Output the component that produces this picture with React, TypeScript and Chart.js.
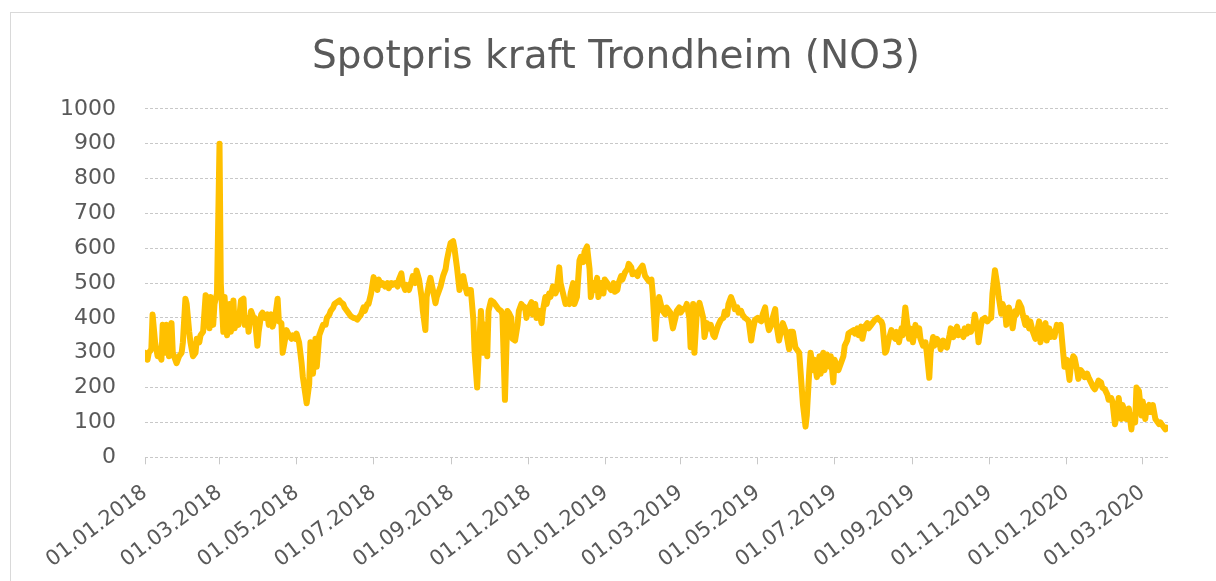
import React, { useEffect, useRef } from "react";
import { Chart, registerables } from "chart.js";

Chart.register(...registerables);

const TITLE = "Spotpris kraft Trondheim (NO3)";
const START_DATE = "01.01.2018";
const AXIS_END_DAY = 810;

const xTickLabels = [
  "01.01.2018", "01.03.2018", "01.05.2018", "01.07.2018", "01.09.2018",
  "01.11.2018", "01.01.2019", "01.03.2019", "01.05.2019", "01.07.2019",
  "01.09.2019", "01.11.2019", "01.01.2020", "01.03.2020",
];

const Y_MIN = 0;
const Y_MAX = 1000;
const Y_STEP = 100;

// day offsets from START_DATE of each reading
const dayOffsets = [
  0, 2, 3, 5, 6, 8, 10, 11, 13, 14, 16, 17,
  19, 21, 22, 24, 25, 27, 29, 30, 32, 33, 35, 36,
  38, 40, 41, 43, 44, 46, 48, 49, 51, 52, 54, 55,
  57, 59, 60, 62, 63, 65, 67, 68, 70, 71, 73, 74,
  76, 78, 79, 81, 82, 84, 86, 87, 89, 90, 92, 93,
  95, 97, 98, 100, 101, 103, 105, 106, 108, 109, 111, 112,
  114, 116, 117, 119, 120, 122, 124, 125, 127, 128, 130, 131,
  133, 135, 136, 138, 139, 141, 143, 144, 146, 147, 149, 150,
  152, 154, 155, 157, 158, 160, 162, 163, 165, 166, 168, 169,
  171, 173, 174, 176, 177, 179, 181, 182, 184, 185, 187, 188,
  190, 192, 193, 195, 196, 198, 200, 201, 203, 204, 206, 207,
  209, 211, 212, 214, 215, 217, 219, 220, 222, 223, 225, 226,
  228, 230, 231, 233, 234, 236, 238, 239, 241, 242, 244, 245,
  247, 249, 250, 252, 253, 255, 257, 258, 260, 261, 263, 264,
  266, 268, 269, 271, 272, 274, 276, 277, 279, 280, 282, 283,
  285, 287, 288, 290, 291, 293, 295, 296, 298, 299, 301, 302,
  304, 306, 307, 309, 310, 312, 314, 315, 317, 318, 320, 321,
  323, 325, 326, 328, 329, 331, 333, 334, 336, 337, 339, 340,
  342, 344, 345, 347, 348, 350, 352, 353, 355, 356, 358, 359,
  361, 363, 364, 366, 367, 369, 371, 372, 374, 375, 377, 378,
  380, 382, 383, 385, 386, 388, 390, 391, 393, 394, 396, 397,
  399, 401, 402, 404, 405, 407, 409, 410, 412, 413, 415, 416,
  418, 420, 421, 423, 424, 426, 428, 429, 431, 432, 434, 435,
  437, 439, 440, 442, 443, 445, 447, 448, 450, 451, 453, 454,
  456, 458, 459, 461, 462, 464, 466, 467, 469, 470, 472, 473,
  475, 477, 478, 480, 481, 483, 485, 486, 488, 489, 491, 492,
  494, 496, 497, 499, 500, 502, 504, 505, 507, 508, 510, 511,
  513, 515, 516, 518, 519, 521, 523, 524, 526, 527, 529, 530,
  532, 534, 535, 537, 538, 540, 542, 543, 545, 546, 548, 549,
  551, 553, 554, 556, 557, 559, 561, 562, 564, 565, 567, 568,
  570, 572, 573, 575, 576, 578, 580, 581, 583, 584, 586, 587,
  589, 591, 592, 594, 595, 597, 599, 600, 602, 603, 605, 606,
  608, 610, 611, 613, 614, 616, 618, 619, 621, 622, 624, 625,
  627, 629, 630, 632, 633, 635, 637, 638, 640, 641, 643, 644,
  646, 648, 649, 651, 652, 654, 656, 657, 659, 660, 662, 663,
  665, 667, 668, 670, 671, 673, 675, 676, 678, 679, 681, 682,
  684, 686, 687, 689, 690, 692, 694, 695, 697, 698, 700, 701,
  703, 705, 706, 708, 709, 711, 713, 714, 716, 717, 719, 720,
  722, 724, 725, 727, 728, 730, 732, 733, 735, 736, 738, 739,
  741, 743, 744, 746, 747, 749, 751, 752, 754, 755, 757, 758,
  760, 762, 763, 765, 766, 768, 770, 771, 773, 774, 776, 777,
  779, 781, 782, 784, 785, 787, 789, 790, 792, 793, 795, 796,
  798, 800, 801, 803, 804, 806, 808, 809,
];

// spot price (NOK/MWh) readings
const prices = [
  // Jan - Apr 2018
  300, 280, 300, 310, 410, 330, 290, 300, 280, 380, 300, 380,
  290, 385, 300, 280, 270, 290, 300, 330, 455, 440, 360, 330,
  290, 300, 340, 330, 350, 360, 465, 460, 370, 460, 380, 440,
  470, 900, 500, 360, 460, 350, 440, 360, 450, 370, 400, 380,
  450, 455, 380, 400, 360, 420, 400, 400, 320, 360, 410, 415,
  400, 410, 380,
  // Apr - Jul 2018
  410, 375, 400, 455, 390, 385, 300, 340, 365, 350, 340, 350,
  340, 355, 330, 270, 230, 180, 155, 210, 330, 240, 340, 260,
  350, 360, 380, 380, 400, 410, 420, 430, 440, 445, 450, 445,
  440, 430, 420, 410, 405, 400, 400, 395, 400, 410, 430, 420,
  440, 440, 470, 517, 500, 480, 510, 495, 500, 490, 500, 485,
  500, 495,
  // Jul - Nov 2018
  500, 490, 510, 528, 500, 480, 495, 480, 505, 520, 500, 536,
  510, 460, 420, 365, 460, 500, 515, 480, 442, 460, 480, 490,
  520, 540, 565, 600, 615, 620, 600, 545, 480, 500, 520, 500,
  470, 480, 480, 395, 300, 200, 280, 420, 300, 380, 290, 420,
  450, 445, 440, 430, 425, 420, 410, 165, 420, 415, 400, 340,
  335, 380, 420, 440, 435, 430, 400, 430,
  // Nov 2018 - Feb 2019
  445, 410, 440, 400, 420, 385, 420, 460, 440, 470, 460, 490,
  470, 480, 545, 500, 470, 440, 450, 440, 470, 500, 440, 460,
  565, 575, 560, 590, 605, 540, 460, 500, 480, 515, 460, 500,
  470, 510, 500, 490, 480, 500, 475, 480, 500, 520, 510, 530,
  540, 555, 545, 525, 530, 520, 535, 545, 550, 520, 515, 505,
  510, 470, 340, 400, 460, 430, 420, 410,
  // Feb - Jun 2019
  430, 420, 415, 370, 400, 420, 430, 415, 425, 430, 440, 400,
  316, 440, 300, 420, 443, 430, 400, 345, 385, 370, 380, 350,
  345, 370, 380, 395, 400, 418, 410, 440, 460, 440, 425, 430,
  415, 420, 410, 400, 395, 390, 335, 360, 395, 400, 395, 390,
  410, 430, 400, 365, 380, 400, 425, 380, 335, 370, 385, 365,
  350, 310, 360,
  // Jun - Sep 2019
  360, 315, 310, 300, 250, 150, 88, 120, 250, 300, 250, 280,
  230, 290, 240, 300, 250, 295, 260, 290, 215, 280, 260, 250,
  270, 290, 320, 335, 355, 360, 365, 355, 370, 350, 375, 340,
  375, 385, 370, 380, 385, 395, 400, 395, 390, 380, 300, 305,
  340, 365, 350, 340, 360, 330, 370, 350, 430, 400, 340, 370,
  330, 380, 350, 370, 340, 320,
  // Sep - Dec 2019
  330, 300, 228, 300, 345, 320, 340, 330, 310, 335, 320, 315,
  350, 370, 345, 360, 375, 350, 360, 345, 370, 355, 375, 360,
  380, 410, 370, 330, 380, 395, 400, 390, 395, 400, 470, 537,
  490, 460, 412, 440, 420, 380, 430, 400, 370, 420, 410, 445,
  430, 410, 380, 400, 370, 390, 360, 340, 355, 390, 330, 370,
  385, 335, 370, 345, 360,
  // Dec 2019 - Mar 2020
  345, 380, 370, 380, 300, 260, 280, 222, 260, 290, 285, 250,
  225, 250, 240, 230, 240, 230, 215, 200, 195, 210, 220, 215,
  200, 195, 180, 165, 170, 160, 95, 130, 170, 110, 150, 130,
  110, 140, 80, 120, 100, 200, 190, 120, 160, 110, 140, 150,
  130, 150, 110, 105, 95, 100, 90, 80, 85,
];

const LINE_COLOR = "#FFC000";
const TEXT_COLOR = "#595959";
const GRID_COLOR = "#c8c8c8";

function parseDay(label: string): number {
  const [d, m, y] = label.split(".").map(Number);
  const [d0, m0, y0] = START_DATE.split(".").map(Number);
  return Math.round((Date.UTC(y, m - 1, d) - Date.UTC(y0, m0 - 1, d0)) / 86400000);
}

export default function App() {
  const canvasRef = useRef<HTMLCanvasElement | null>(null);

  useEffect(() => {
    const canvas = canvasRef.current;
    if (!canvas) return;
    const n = Math.min(dayOffsets.length, prices.length);
    const points = [];
    for (let i = 0; i < n; i++) points.push({ x: dayOffsets[i], y: prices[i] });
    const tickDays = xTickLabels.map(parseDay);

    const chart = new Chart(canvas, {
      type: "line",
      data: {
        datasets: [
          {
            label: TITLE,
            data: points,
            borderColor: LINE_COLOR,
            backgroundColor: LINE_COLOR,
            borderWidth: 6,
            pointRadius: 0,
            tension: 0,
            borderJoinStyle: "round",
            borderCapStyle: "round",
          },
        ],
      },
      options: {
        animation: false,
        responsive: false,
        devicePixelRatio: 1,
        layout: { padding: { left: 50, right: 34, top: 0, bottom: 0 } },
        plugins: {
          legend: { display: false },
          tooltip: { enabled: false },
          title: {
            display: true,
            text: TITLE,
            color: TEXT_COLOR,
            font: { family: "'DejaVu Sans', sans-serif", size: 39, weight: "normal", lineHeight: 1.2 },
            padding: { top: 34, bottom: 28 },
          },
        },
        scales: {
          x: {
            type: "linear",
            min: 0,
            max: AXIS_END_DAY,
            afterBuildTicks: (scale: any) => {
              scale.ticks = tickDays.map((v) => ({ value: v }));
            },
            afterFit: (scale: any) => {
              scale.height = 123.7;
            },
            ticks: {
              autoSkip: false,
              minRotation: 37,
              maxRotation: 37,
              padding: 16,
              color: TEXT_COLOR,
              font: { family: "'DejaVu Sans', sans-serif", size: 21 },
              callback: (_v: any, i: number) => xTickLabels[i],
            },
            grid: {
              drawOnChartArea: false,
              drawTicks: true,
              tickLength: 7,
              color: GRID_COLOR,
              tickColor: GRID_COLOR,
            },
            border: { display: false },
          },
          y: {
            min: Y_MIN,
            max: Y_MAX,
            afterFit: (scale: any) => {
              scale.width = 95;
            },
            ticks: {
              stepSize: Y_STEP,
              padding: 29,
              color: TEXT_COLOR,
              font: { family: "'DejaVu Sans', sans-serif", size: 22 },
              callback: (v: any) => String(v),
            },
            grid: {
              drawTicks: false,
              color: GRID_COLOR,
              lineWidth: 1,
            },
            border: { display: false, dash: [3, 2] },
          },
          yRightSpacer: {
            type: "linear",
            position: "right",
            display: true,
            afterFit: (scale: any) => {
              scale.width = 14;
            },
            ticks: { display: false },
            grid: { display: false, drawTicks: false },
            border: { display: false },
          },
        },
      },
    });
    return () => chart.destroy();
  }, []);

  return (
    <div style={{ position: "fixed", left: 0, top: 0, width: 1216, height: 581, background: "#ffffff", overflow: "hidden" }}>
      <div
        style={{
          position: "absolute",
          left: 10,
          top: 12,
          width: 1230,
          height: 600,
          borderLeft: "1px solid #d9d9d9",
          borderTop: "1px solid #d9d9d9",
        }}
      />
      <canvas ref={canvasRef} width={1216} height={581} style={{ position: "absolute", left: 0, top: 0, display: "block" }} />
    </div>
  );
}
